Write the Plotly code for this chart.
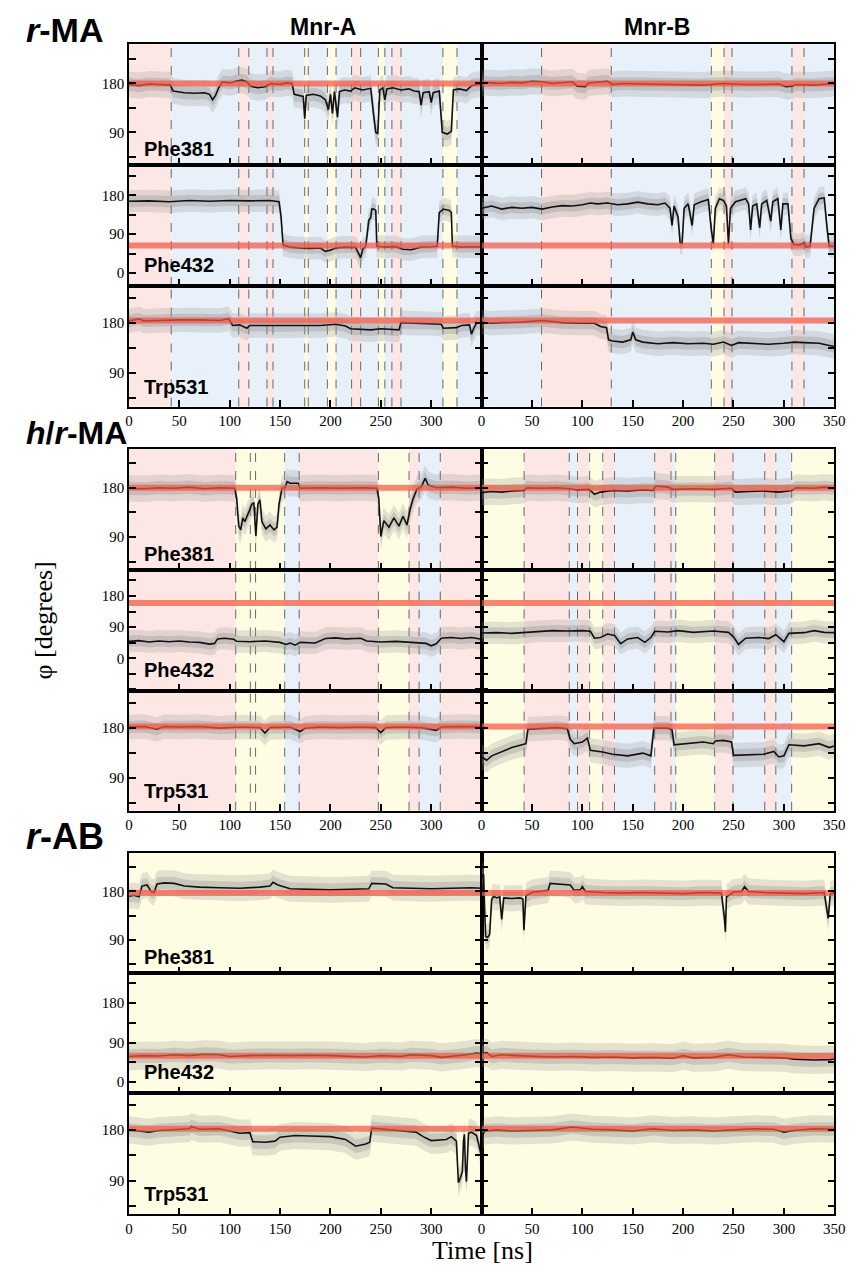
import plotly.graph_objects as go

# ---------------- DATA ----------------
groups = ["<b><i>r</i>-MA</b>", "<b><i>h</i>/<i>r</i>-MA</b>", "<b><i>r</i>-AB</b>"]
residues = ["Phe381", "Phe432", "Trp531"]
columns = ["Mnr-A", "Mnr-B"]

x_ticks_left = [0, 50, 100, 150, 200, 250, 300]
x_ticks_right = [0, 50, 100, 150, 200, 250, 300, 350]
y_tick_vals = [-90, -45, 0, 45, 90, 135, 180, 225]
y_tick_text = ["", "", "0", "", "90", "", "180", ""]

# y-axis ranges per group (rows: Phe381, Phe432, Trp531)
yrange_rma = [(30, 252), (-30, 250), (30, 247)]
yrange_hrma = [(30, 250), (-93, 255), (31, 248)]
yrange_rab = [(28, 252), (-26, 248), (30, 245)]

# reference (red) dihedral per group/row
ref_rma = [180, 64, 185]
ref_hrma = [180, 160, 183]
ref_rab = [177, 60, 182]

# half-width of the raw (grey) fluctuation, degrees
spread_rma = [24, 26, 22]
spread_hrma = [24, 32, 22]
spread_rab = [24, 32, 24]

# state regions: boundaries (ns) and state codes (p/b/y)
reg_rma_a = [0, 42, 109, 119, 137, 143, 174.5, 178, 197, 205.6, 221, 230, 247.6, 254, 261, 270, 311.6, 325.6, 350]
state_rma_a = ["p", "b", "p", "b", "p", "b", "y", "b", "y", "b", "p", "b", "y", "b", "p", "b", "y", "b"]
reg_rma_b = [0, 59.5, 128.7, 228, 240.6, 248.5, 308, 320, 350]
state_rma_b = ["b", "p", "b", "y", "p", "b", "p", "b"]
reg_hrma_a = [0, 106, 120.5, 125.7, 154.6, 169, 247.6, 278, 288, 309, 350]
state_hrma_a = ["p", "y", "y", "y", "b", "p", "y", "p", "b", "p"]
reg_hrma_b = [0, 42.2, 87, 95.2, 107.2, 120.2, 131.9, 171.8, 188, 192.7, 231.3, 249.5, 281, 292, 307.7, 350]
state_hrma_b = ["y", "p", "b", "p", "y", "p", "b", "p", "b", "y", "p", "b", "p", "b", "y"]
reg_rab_a = [0, 350]
state_rab_a = ["y"]
reg_rab_b = [0, 350]
state_rab_b = ["y"]

# smoothed dihedral traces (time ns, angle deg)
rma_a_phe381 = [(0,178),(10,176),(20,179),(30,178),(41,177),(44,166),(55,163),(65,162),(75,163),(80,160),(83,150),(86,158),(89,172),(93,183),(100,181),(106,184),(112,186),(117,183),(121,175),(128,172),(135,174),(141,180),(150,178),(156,181),(162,180),(164,160),(170,158),(173,156),(174.5,115),(176,158),(183,160),(190,157),(195,150),(198,132),(200,160),(202,125),(204,165),(207,118),(209,165),(214,168),(220,166),(224,172),(232,168),(240,171),(243,120),(245,90),(247,88),(249,168),(252,172),(254,150),(256,170),(262,172),(270,168),(278,170),(283,166),(288,165),(290,140),(292,163),(298,165),(300,145),(302,163),(308,166),(311,90),(316,87),(320,92),(322,168),(328,170),(335,167),(340,176),(345,178),(350,178)]
rma_a_phe432 = [(0,166),(20,167),(40,165),(60,168),(80,166),(100,168),(120,167),(140,168),(149,165),(151,130),(153,65),(160,60),(170,58),(180,57),(190,58),(195,50),(200,53),(205,58),(215,60),(225,59),(228,45),(230,35),(232,55),(235,62),(237,100),(238,122),(240,128),(241,148),(243,148),(245,145),(246,62),(255,60),(265,61),(272,55),(280,54),(290,60),(300,61),(306,62),(308,140),(312,148),(318,145),(320,140),(321,62),(330,60),(340,61),(350,60)]
rma_a_trp531 = [(0,184),(10,188),(15,184),(30,185),(50,186),(70,186),(90,185),(99,188),(103,176),(110,177),(117,171),(120,176),(130,176),(150,175),(170,176),(190,176),(205,178),(215,175),(220,170),(240,168),(250,170),(262,168),(268,168),(270,181),(285,180),(300,180),(310,178),(312,171),(325,172),(330,176),(338,177),(340,160),(342,170),(345,180),(350,180)]
rma_b_phe381 = [(0,176),(2,182),(10,181),(20,180),(30,182),(40,181),(50,184),(60,183),(70,180),(80,181),(90,183),(95,175),(103,174),(106,181),(115,183),(125,184),(130,178),(140,180),(160,179),(180,178),(200,178),(220,177),(240,180),(260,178),(280,178),(295,179),(302,174),(308,175),(312,178),(330,177),(350,180)]
rma_b_phe432 = [(0,150),(10,155),(20,148),(30,152),(40,150),(50,152),(60,148),(70,153),(80,156),(90,155),(100,158),(108,162),(115,160),(125,162),(135,158),(145,160),(155,164),(165,160),(175,158),(182,162),(187,150),(189,110),(191,155),(195,130),(197,70),(199,68),(201,150),(205,160),(209,110),(211,158),(218,165),(225,170),(228,100),(230,68),(232,150),(236,172),(240,168),(243,155),(245,68),(247,150),(252,165),(258,170),(262,172),(265,160),(267,100),(269,155),(273,160),(276,105),(278,160),(283,168),(287,120),(289,165),(294,172),(297,100),(299,160),(304,160),(307,80),(310,66),(316,65),(320,70),(322,60),(326,62),(330,150),(335,172),(340,174),(343,100),(345,62),(350,62)]
rma_b_trp531 = [(0,182),(10,180),(20,181),(40,182),(60,185),(80,181),(100,180),(112,180),(118,174),(124,172),(126,150),(130,148),(140,146),(148,150),(150,164),(153,150),(160,146),(175,143),(190,145),(205,143),(220,144),(230,142),(240,146),(248,140),(255,145),(270,144),(285,142),(300,144),(310,146),(320,145),(335,144),(345,140),(350,138)]

hrma_a_phe381 = [(0,179),(15,178),(30,180),(45,179),(60,181),(75,178),(90,180),(105,179),(107,160),(109,110),(111,103),(113,125),(115,118),(118,130),(120,140),(122,150),(124,152),(126,92),(128,150),(130,158),(132,118),(136,105),(140,112),(144,103),(147,108),(149,150),(152,179),(155,180),(157,191),(160,188),(168,188),(170,179),(190,180),(210,179),(230,180),(246,179),(248,160),(250,91),(253,120),(258,108),(263,125),(268,110),(272,128),(276,112),(279,140),(282,160),(286,178),(290,181),(294,197),(297,185),(305,180),(320,181),(335,179),(350,180)]
hrma_a_phe432 = [(0,49),(10,51),(20,47),(30,50),(40,48),(50,50),(60,47),(70,46),(80,41),(85,43),(88,56),(95,58),(104,55),(107,49),(120,48),(135,50),(150,46),(156,40),(160,44),(165,38),(170,46),(185,44),(195,57),(205,59),(215,56),(230,58),(236,50),(250,47),(265,49),(280,46),(295,43),(300,36),(305,42),(310,58),(320,60),(330,57),(340,60),(350,55)]
hrma_a_trp531 = [(0,182),(15,183),(28,178),(35,183),(50,182),(70,183),(90,180),(110,182),(130,181),(135,171),(140,181),(160,182),(170,174),(175,180),(190,182),(210,181),(230,182),(245,181),(250,172),(255,181),(270,182),(290,181),(305,176),(310,182),(330,183),(350,182)]
hrma_b_phe381 = [(0,171),(10,173),(20,172),(30,174),(42,175),(45,180),(60,179),(75,180),(87,178),(95,176),(107,177),(112,168),(118,172),(130,175),(145,174),(160,176),(170,175),(173,183),(185,181),(190,177),(210,178),(230,177),(248,179),(252,172),(265,173),(280,174),(295,172),(308,175),(312,180),(330,179),(340,181),(350,179)]
hrma_b_phe432 = [(0,73),(15,74),(30,72),(45,75),(55,78),(70,80),(85,79),(100,80),(108,78),(112,58),(118,60),(125,70),(132,66),(138,42),(145,56),(155,60),(162,46),(168,60),(172,78),(185,76),(195,80),(210,75),(230,79),(245,75),(250,62),(255,40),(262,58),(275,60),(285,57),(292,68),(300,48),(305,72),(320,74),(330,80),(340,75),(350,74)]
hrma_b_trp531 = [(0,128),(5,122),(10,130),(20,138),(30,145),(40,150),(44,152),(46,178),(60,180),(75,181),(85,179),(88,160),(92,152),(100,155),(105,162),(108,140),(120,137),(130,133),(145,130),(160,135),(168,130),(171,180),(185,180),(189,177),(191,150),(205,152),(220,155),(230,152),(232,157),(240,158),(248,155),(250,131),(265,132),(280,133),(290,138),(295,128),(300,130),(305,150),(320,148),(335,152),(345,145),(350,148)]

rab_a_phe381 = [(0,171),(5,173),(10,170),(13,190),(18,192),(22,180),(25,178),(28,194),(35,196),(45,195),(55,190),(70,188),(90,187),(110,186),(130,188),(140,190),(143,197),(148,192),(160,185),(180,184),(200,183),(220,184),(238,185),(241,195),(255,194),(262,187),(280,186),(300,185),(320,186),(340,187),(350,186)]
rab_a_phe432 = [(0,58),(15,60),(30,59),(45,62),(60,60),(75,63),(90,62),(100,58),(120,60),(140,61),(160,60),(180,61),(200,60),(220,59),(235,57),(250,60),(270,58),(280,62),(300,60),(310,56),(320,58),(335,62),(345,66),(350,64)]
rab_a_trp531 = [(0,180),(10,178),(20,176),(30,179),(45,181),(60,182),(62,186),(70,181),(90,182),(100,178),(110,174),(120,175),(123,159),(135,158),(145,160),(150,167),(165,170),(180,169),(200,168),(215,163),(225,151),(235,155),(239,158),(241,183),(255,181),(270,178),(285,176),(292,168),(300,161),(315,163),(320,168),(325,160),(327,86),(329,95),(331,106),(332,160),(333,172),(334,110),(335,88),(337,174),(340,176),(345,170),(348,150),(350,133)]
rab_b_phe381 = [(0,205),(2,212),(3,150),(4,96),(6,95),(8,100),(10,165),(12,171),(15,168),(18,170),(20,128),(22,168),(30,167),(38,168),(41,166),(42,108),(44,172),(50,178),(60,181),(66,182),(68,195),(80,194),(88,192),(92,182),(98,183),(100,189),(103,180),(120,178),(140,177),(160,178),(180,177),(200,176),(220,178),(238,177),(241,130),(242,105),(243,170),(250,179),(258,180),(261,189),(265,180),(280,178),(300,177),(320,176),(340,178),(344,130),(346,175),(350,178)]
rab_b_phe432 = [(0,64),(5,67),(10,58),(20,62),(35,60),(50,58),(70,57),(90,58),(110,56),(130,57),(150,55),(170,56),(190,54),(200,60),(210,55),(230,56),(245,62),(260,57),(280,56),(300,55),(310,52),(330,50),(345,51),(350,52)]
rab_b_trp531 = [(0,133),(1,170),(3,178),(15,180),(30,178),(50,179),(70,180),(90,185),(110,181),(130,180),(150,178),(170,182),(190,179),(210,180),(230,178),(250,180),(270,182),(290,181),(300,176),(310,179),(330,182),(350,181)]

# ---------------- STYLE / LAYOUT ----------------
PAGE_W, PAGE_H = 860, 1268
OFF = 8                      # default body margin of the html page
W, H = PAGE_W - OFF, PAGE_H - OFF
STATE_COL = {"p": "#fde7e4", "b": "#e8f1fa", "y": "#fefce3"}
SERIF = "Liberation Serif, Times New Roman, serif"
SANS = "Liberation Sans, Arial, sans-serif"


def px_x(px):
    return (px - OFF) / W


def px_y(py):
    return 1 - (py - OFF) / H


group_series = [
    [[rma_a_phe381, rma_b_phe381], [rma_a_phe432, rma_b_phe432], [rma_a_trp531, rma_b_trp531]],
    [[hrma_a_phe381, hrma_b_phe381], [hrma_a_phe432, hrma_b_phe432], [hrma_a_trp531, hrma_b_trp531]],
    [[rab_a_phe381, rab_b_phe381], [rab_a_phe432, rab_b_phe432], [rab_a_trp531, rab_b_trp531]],
]
group_yr = [yrange_rma, yrange_hrma, yrange_rab]
group_ref = [ref_rma, ref_hrma, ref_rab]
group_spread = [spread_rma, spread_hrma, spread_rab]
group_regions = [[(reg_rma_a, state_rma_a), (reg_rma_b, state_rma_b)],
                 [(reg_hrma_a, state_hrma_a), (reg_hrma_b, state_hrma_b)],
                 [(reg_rab_a, state_rab_a), (reg_rab_b, state_rab_b)]]

col_px = [(127, 486), (486, 845)]
row_px = [(44.3, 165), (165, 286), (286, 406.5),
          (449.3, 570), (570, 690.5), (690.5, 810.7),
          (852.7, 973.3), (973.3, 1093.3), (1093.3, 1214.3)]
label_off = [16, 21, 20]
group_label_y = [30, 433, 836]
group_label_size = [34, 32, 36]

fig = go.Figure()
layout = {}
shapes = []
annotations = []

n = 0
for g in range(3):
    for r in range(3):
        top, bot = row_px[g * 3 + r]
        ydom = [px_y(bot), px_y(top)]
        for c in range(2):
            n += 1
            xk = "x" if n == 1 else f"x{n}"
            yk = "y" if n == 1 else f"y{n}"
            xdom = [px_x(col_px[c][0]), px_x(col_px[c][1])]
            pts = group_series[g][r][c]
            t = [p[0] for p in pts]
            v = [p[1] for p in pts]
            sp = group_spread[g][r]
            # grey fluctuation bands
            for frac, col in [(1.0, "rgba(150,150,150,0.26)"), (0.5, "rgba(140,140,140,0.30)")]:
                up = [a + sp * frac for a in v]
                lo = [a - sp * frac for a in v]
                fig.add_trace(go.Scatter(x=t + t[::-1], y=up + lo[::-1], fill="toself",
                                         fillcolor=col, line=dict(width=0), mode="lines",
                                         xaxis=xk, yaxis=yk, hoverinfo="skip", showlegend=False))
            fig.add_trace(go.Scatter(x=t, y=v, mode="lines", line=dict(color="#111111", width=1.6),
                                     xaxis=xk, yaxis=yk, hoverinfo="skip", showlegend=False))
            ref = group_ref[g][r]
            fig.add_trace(go.Scatter(x=[0, 350], y=[ref, ref], mode="lines",
                                     line=dict(color="rgba(244,88,66,0.72)", width=6),
                                     xaxis=xk, yaxis=yk, hoverinfo="skip", showlegend=False))
            # background states
            bounds, states = group_regions[g][c]
            ydref = f"{yk} domain"
            for i, s in enumerate(states):
                shapes.append(dict(type="rect", xref=xk, yref=ydref, x0=bounds[i], x1=bounds[i + 1],
                                   y0=0, y1=1, fillcolor=STATE_COL[s], line=dict(width=0), layer="below"))
            for b in bounds[1:-1]:
                shapes.append(dict(type="line", xref=xk, yref=ydref, x0=b, x1=b, y0=0, y1=1,
                                   line=dict(color="#444444", width=0.8, dash="dash"), layer="below"))
            xt = x_ticks_left if c == 0 else x_ticks_right
            layout["xaxis" if n == 1 else f"xaxis{n}"] = dict(
                domain=xdom, anchor=yk, range=[0, 350], tickvals=xt,
                ticktext=[str(x) for x in xt], showticklabels=(r == 2),
                ticks="inside", ticklen=7, tickwidth=1.5, tickcolor="black",
                showline=True, linecolor="black", linewidth=1.5, mirror=True,
                showgrid=False, zeroline=False,
                tickfont=dict(family=SERIF, size=15, color="black"))
            layout["yaxis" if n == 1 else f"yaxis{n}"] = dict(
                domain=ydom, anchor=xk, range=list(group_yr[g][r]),
                tickvals=y_tick_vals, ticktext=y_tick_text, showticklabels=(c == 0),
                ticks="inside", ticklen=7, tickwidth=1.5, tickcolor="black",
                showline=True, linecolor="black", linewidth=1.5, mirror="ticks",
                showgrid=False, zeroline=False,
                tickfont=dict(family=SERIF, size=15, color="black"))
        # residue label
        annotations.append(dict(text=f"<b>{residues[r]}</b>", xref="paper", yref="paper",
                                x=px_x(140), y=px_y(bot - label_off[r]), xanchor="left", yanchor="middle",
                                showarrow=False, font=dict(family=SANS, size=20, color="black")))
    annotations.append(dict(text=groups[g], xref="paper", yref="paper", x=px_x(20),
                            y=px_y(group_label_y[g]), xanchor="left", yanchor="middle",
                            showarrow=False, font=dict(family=SANS, size=group_label_size[g], color="black")))

annotations.append(dict(text=f"<b>{columns[0]}</b>", xref="paper", yref="paper", x=px_x(325), y=px_y(27),
                        xanchor="center", yanchor="middle", showarrow=False,
                        font=dict(family=SANS, size=23, color="black")))
annotations.append(dict(text=f"<b>{columns[1]}</b>", xref="paper", yref="paper", x=px_x(665), y=px_y(27),
                        xanchor="center", yanchor="middle", showarrow=False,
                        font=dict(family=SANS, size=23, color="black")))
annotations.append(dict(text="φ [degrees]", xref="paper", yref="paper", x=px_x(40), y=px_y(620),
                        xanchor="center", yanchor="middle", textangle=-90, showarrow=False,
                        font=dict(family=SERIF, size=26, color="black")))
annotations.append(dict(text="Time [ns]", xref="paper", yref="paper", x=px_x(487), y=px_y(1250),
                        xanchor="center", yanchor="middle", showarrow=False,
                        font=dict(family=SERIF, size=26, color="black")))

fig.update_layout(width=W, height=H, autosize=False, margin=dict(l=0, r=0, t=0, b=0),
                  paper_bgcolor="white", plot_bgcolor="rgba(0,0,0,0)",
                  shapes=shapes, annotations=annotations, showlegend=False, **layout)
fig.write_html("out.html")
